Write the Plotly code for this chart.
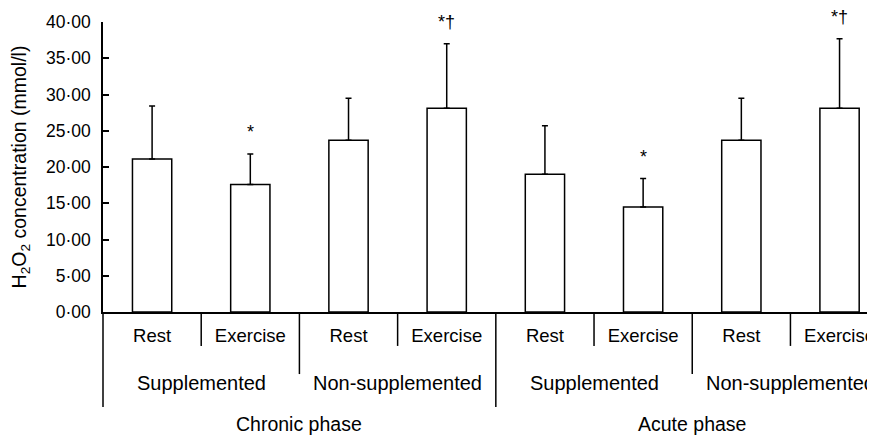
import plotly.graph_objects as go

# ---- data ----
conditions = ["Rest", "Exercise", "Rest", "Exercise", "Rest", "Exercise", "Rest", "Exercise"]
groups = ["Supplemented", "Non-supplemented", "Supplemented", "Non-supplemented"]
phases = ["Chronic phase", "Acute phase"]
means = [21.1, 17.6, 23.7, 28.1, 19.0, 14.5, 23.7, 28.1]
sds = [7.3, 4.2, 5.8, 8.9, 6.7, 3.9, 5.8, 9.6]
marks = ["", "*", "", "*\u2020", "", "*", "", "*\u2020"]
y_ticks = [0, 5, 10, 15, 20, 25, 30, 35, 40]
y_tick_labels = ["0\u00b700", "5\u00b700", "10\u00b700", "15\u00b700", "20\u00b700",
                 "25\u00b700", "30\u00b700", "35\u00b700", "40\u00b700"]

FONT = "Liberation Sans, Arial, Helvetica, sans-serif"
xpos = list(range(len(means)))

fig = go.Figure()
fig.add_trace(go.Bar(
    x=xpos, y=means, width=0.4,
    marker=dict(color="white", line=dict(color="black", width=1.5)),
    error_y=dict(type="data", array=sds, arrayminus=[0] * len(sds), symmetric=False,
                 color="black", thickness=1.5, width=3),
    showlegend=False, hoverinfo="skip",
))

annotations = []
# significance marks
for i, m in enumerate(marks):
    if m:
        annotations.append(dict(x=i, y=means[i] + sds[i], xref="x", yref="y", text=m,
                                showarrow=False, yanchor="bottom", yshift=10,
                                font=dict(family=FONT, size=18, color="black")))
# group labels
for g, name in enumerate(groups):
    annotations.append(dict(x=2 * g + 0.5, y=-0.246, xref="x", yref="paper", text=name,
                            showarrow=False, yanchor="middle",
                            font=dict(family=FONT, size=20, color="black")))
# phase labels
for p, name in enumerate(phases):
    annotations.append(dict(x=4 * p + 1.5, y=-0.387, xref="x", yref="paper", text=name,
                            showarrow=False, yanchor="middle",
                            font=dict(family=FONT, size=19.5, color="black")))

shapes = []
line = dict(color="black", width=1.5)
# condition dividers
for g in range(len(groups)):
    shapes.append(dict(type="line", xref="x", yref="paper", x0=2 * g + 0.5, x1=2 * g + 0.5,
                       y0=0, y1=-0.117, line=line))
# group dividers
for p in range(len(phases)):
    shapes.append(dict(type="line", xref="x", yref="paper", x0=4 * p + 1.5, x1=4 * p + 1.5,
                       y0=0, y1=-0.214, line=line))
# phase divider
shapes.append(dict(type="line", xref="x", yref="paper", x0=3.5, x1=3.5,
                   y0=0, y1=-0.328, line=line))
# left extension of axis
shapes.append(dict(type="line", xref="paper", yref="paper", x0=0, x1=0,
                   y0=0, y1=-0.328, line=line))

fig.update_layout(
    width=867, height=431,
    margin=dict(l=95, r=0, t=14, b=127, autoexpand=False),
    plot_bgcolor="white", paper_bgcolor="white",
    font=dict(family=FONT, color="black"),
    xaxis=dict(range=[-0.5, 7.361], tickvals=xpos, ticktext=conditions,
               showline=True, linecolor="black", linewidth=1.5, ticks="",
               showgrid=False, zeroline=False, ticklabelstandoff=6, automargin=False,
               ticklabeloverflow="allow",
               tickfont=dict(family=FONT, size=18.5, color="black")),
    yaxis=dict(range=[0, 40], tickvals=y_ticks, ticktext=y_tick_labels,
               showline=True, linecolor="black", linewidth=1.5,
               ticks="inside", ticklen=6, tickwidth=1.5, tickcolor="black",
               showgrid=False, zeroline=False, ticklabelstandoff=7, automargin=False,
               ticklabeloverflow="allow",
               tickfont=dict(family=FONT, size=17.5, color="black"),
               title=dict(text="H<sub>2</sub>O<sub>2</sub> concentration (mmol/l)",
                          font=dict(family=FONT, size=19.5, color="black"), standoff=14)),
    annotations=annotations, shapes=shapes,
)

fig.write_html("out.html")
